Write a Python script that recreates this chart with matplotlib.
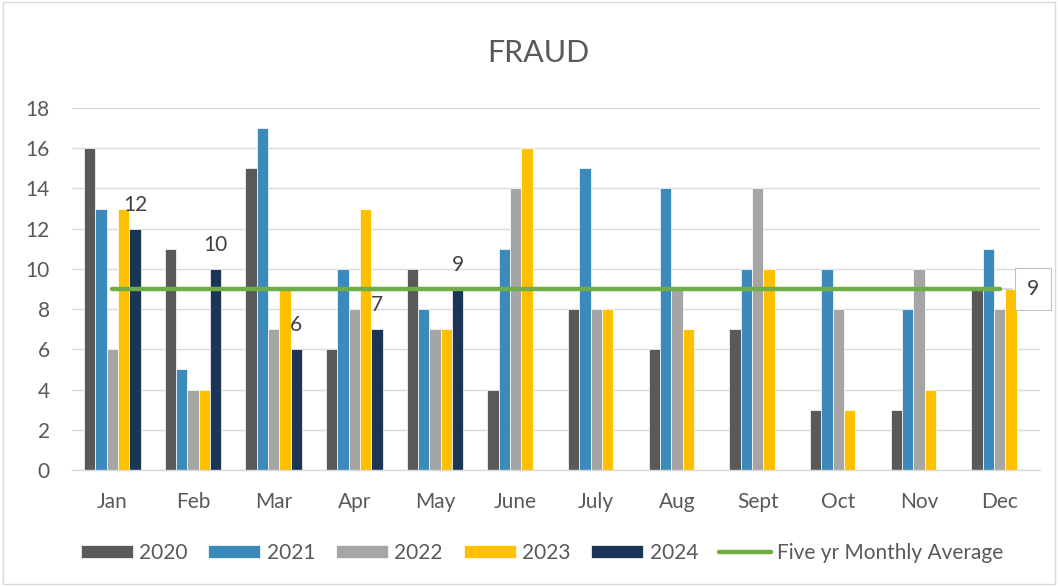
import matplotlib
matplotlib.use("Agg")
import matplotlib.pyplot as plt
import numpy as np
from matplotlib.patches import Rectangle

months = ["Jan", "Feb", "Mar", "Apr", "May", "June", "July", "Aug", "Sept", "Oct", "Nov", "Dec"]
y2020 = [16, 11, 15, 6, 10, 4, 8, 6, 7, 3, 3, 9]
y2021 = [13, 5, 17, 10, 8, 11, 15, 14, 10, 10, 8, 11]
y2022 = [6, 4, 7, 8, 7, 14, 8, 9, 14, 8, 10, 8]
y2023 = [13, 4, 9, 13, 7, 16, 8, 7, 10, 3, 4, 9]
y2024 = [12, 10, 6, 7, 9, None, None, None, None, None, None, None]
avg = [9, 9, 9, 9, 9, 9, 9, 9, 9, 9, 9, 9]

series = [("2020", y2020, "#595959"), ("2021", y2021, "#3C8ABB"),
          ("2022", y2022, "#A5A5A5"), ("2023", y2023, "#FFC000"),
          ("2024", y2024, "#1B3557")]

plt.rcParams['font.family'] = ['Lato', 'DejaVu Sans']
txt = "#595959"

fig = plt.figure(figsize=(10.58, 5.86), dpi=100)
ax = fig.add_axes([72/1058, 1-470/586, (1040-72)/1058, (470-108)/586])

x = np.arange(len(months))
w = 0.14
for i, (name, vals, col) in enumerate(series):
    v = np.array([np.nan if a is None else a for a in vals], dtype=float)
    ax.bar(x + (i-2)*w, v, width=w, color=col, edgecolor="white", linewidth=0.5, label=name, zorder=2)
    if name == "2024":
        for xi, vi in zip(x + (i-2)*w, v):
            if not np.isnan(vi):
                ax.annotate(f"{int(vi)}", (xi, vi), xytext=(0, 10), textcoords="offset points",
                            ha="center", va="bottom", fontsize=15, color="#404040")

ax.plot(x, avg, color="#70AD47", linewidth=3.2, solid_capstyle="round", label="Five yr Monthly Average", zorder=3)
ax.annotate("9", (x[-1], avg[-1]), xytext=(24, 0), textcoords="offset points",
            ha="center", va="center", fontsize=15, color="#404040",
            bbox=dict(boxstyle="square,pad=0.55", fc="white", ec="#BFBFBF", lw=0.8),
            arrowprops=dict(arrowstyle="-", color="#BFBFBF", lw=0.8), zorder=5)

ax.set_xlim(-0.5, 11.5)
ax.set_ylim(0, 18)
ax.set_yticks(range(0, 19, 2))
ax.set_xticks(x)
ax.set_xticklabels(months)
ax.tick_params(axis="both", length=0, labelsize=15, colors=txt)
ax.tick_params(axis="x", pad=16)
ax.tick_params(axis="y", pad=16)
ax.grid(axis="y", color="#D9D9D9", linewidth=1, zorder=0)
ax.set_axisbelow(True)
for s in ["top", "right", "left"]:
    ax.spines[s].set_visible(False)
ax.spines["bottom"].set_color("#D9D9D9")
ax.spines["bottom"].set_linewidth(1)

fig.text(538/1058, 1-53/586, "FRAUD", ha="center", va="center", fontsize=22, color=txt)

handles, labels = ax.get_legend_handles_labels()
order = [1, 2, 3, 4, 5, 0]
leg = fig.legend([handles[k] for k in order], [labels[k] for k in order],
                 loc="center", bbox_to_anchor=(542/1058, 1-553/586), ncol=6, frameon=False,
                 fontsize=15, handlelength=2.5, handleheight=0.62, columnspacing=1.0, handletextpad=0.3)
for t in leg.get_texts():
    t.set_color(txt)

fig.patches.append(Rectangle((0.003, 0.003), 0.994, 0.994, transform=fig.transFigure,
                             fill=False, ec="#D9D9D9", lw=1))

fig.savefig("out.png", dpi=100)
